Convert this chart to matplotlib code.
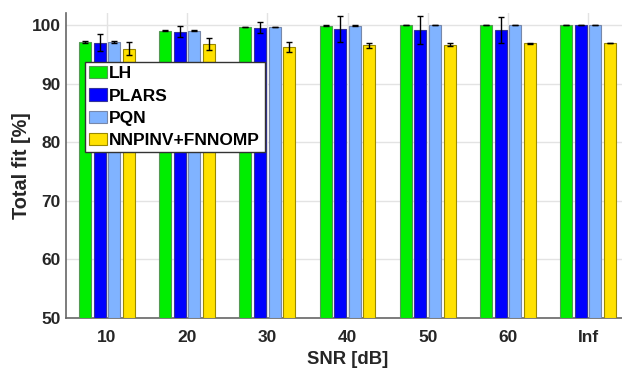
import numpy as np
import matplotlib.pyplot as plt

plt.rcParams['font.family'] = ['Liberation Sans', 'DejaVu Sans']
plt.rcParams['font.weight'] = 'bold'

snr_labels = ['10', '20', '30', '40', '50', '60', 'Inf']
methods = ['LH', 'PLARS', 'PQN', 'NNPINV+FNNOMP']
colors = ['#00ee00', '#0000ff', '#80b3ff', '#ffe100']
edges = ['#559955', '#333399', '#7788aa', '#998800']

lh = [97.1, 99.1, 99.7, 99.95, 100.0, 100.0, 100.0]
lh_err = [0.15, 0.1, 0.05, 0.03, 0.02, 0.02, 0.0]
plars = [97.0, 98.9, 99.6, 99.35, 99.2, 99.2, 100.0]
plars_err = [1.45, 0.95, 0.9, 2.2, 2.4, 2.15, 0.0]
pqn = [97.1, 99.1, 99.7, 99.95, 100.0, 100.0, 100.0]
pqn_err = [0.15, 0.1, 0.05, 0.03, 0.02, 0.02, 0.0]
nnp = [96.0, 96.8, 96.3, 96.55, 96.7, 96.9, 96.9]
nnp_err = [1.15, 1.0, 0.9, 0.35, 0.3, 0.1, 0.0]

values = [lh, plars, pqn, nnp]
errors = [lh_err, plars_err, pqn_err, nnp_err]

fig = plt.figure(figsize=(6.22, 3.68), dpi=100)
ax = fig.add_axes([66 / 622, 1 - 318 / 368, 563 / 622, 305 / 368])

x = np.arange(1, len(snr_labels) + 1)
offsets = [-0.273, -0.091, 0.091, 0.273]
for vals, errs, off, c, ec, name in zip(values, errors, offsets, colors, edges, methods):
    ax.bar(x + off, np.array(vals) - 50, width=0.15, bottom=50, color=c,
           edgecolor=ec, linewidth=0.8, label=name, zorder=3)
    ax.errorbar(x + off, vals, yerr=errs, fmt='none', ecolor='black',
                elinewidth=1, capsize=2, capthick=1, zorder=4)

ax.set_xlim(0.49, 7.51)
ax.set_ylim(50, 102.1)
ax.set_xticks(x)
ax.set_xticklabels(snr_labels)
ax.set_yticks([50, 60, 70, 80, 90, 100])
ax.tick_params(axis='both', labelsize=12.5, length=0, colors='#262626')
ax.tick_params(axis='x', pad=9)
ax.tick_params(axis='y', pad=4)
ax.grid(True, color='#e3e3e3', linewidth=1, zorder=0)
ax.set_axisbelow(True)
for s in ['top', 'right']:
    ax.spines[s].set_visible(False)
for s in ['left', 'bottom']:
    ax.spines[s].set_color('#666666')
    ax.spines[s].set_linewidth(1.2)

ax.set_xlabel('SNR [dB]', fontsize=13.3, fontweight='bold', color='#262626', labelpad=4)
ax.set_ylabel('Total fit [%]', fontsize=14.3, fontweight='bold', color='#262626', labelpad=0)

leg = ax.legend(loc='upper left', bbox_to_anchor=(19 / 563, 1 - 49 / 305),
                fontsize=12.5, frameon=True, fancybox=False, framealpha=1,
                handlelength=1.0, handleheight=0.7, handletextpad=0.15,
                borderpad=0.25, labelspacing=0.4, borderaxespad=0)
leg.get_frame().set_edgecolor('#333333')
leg.get_frame().set_facecolor('white')
leg.get_frame().set_linewidth(1)
leg.set_zorder(10)

fig.savefig('out.png', dpi=100)
